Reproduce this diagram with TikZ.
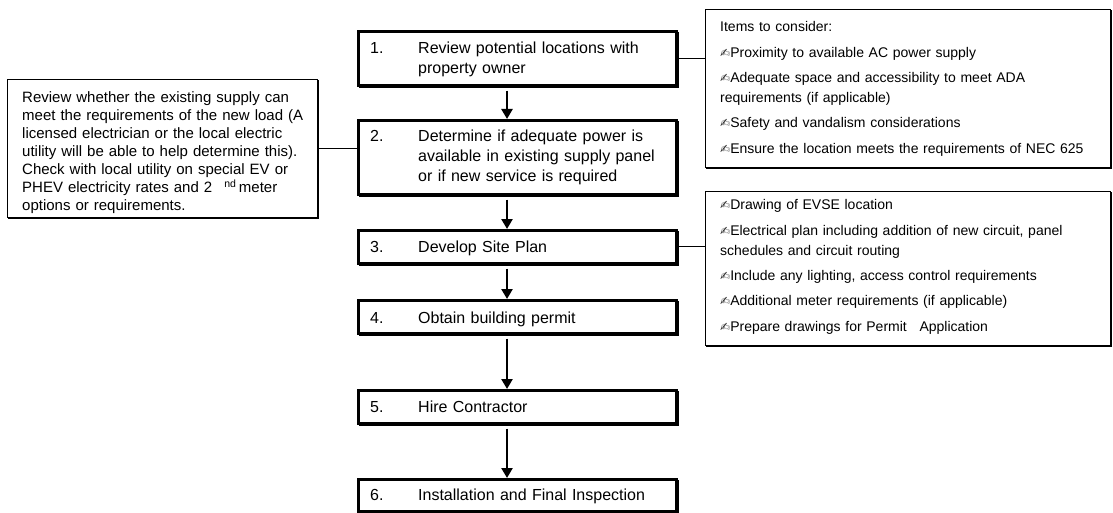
\documentclass[tikz,border=0pt]{standalone}
\usepackage{fontspec}
\setmainfont{Liberation Sans}
\newfontfamily\symfont{DejaVu Sans}
\usetikzlibrary{arrows.meta,calc,shadows}
\newcommand{\pen}{{\symfont\fontsize{12}{12}\selectfont\textcolor{black!80}{✍}}}
\begin{document}
\begin{tikzpicture}[x=1pt,y=-1pt,
  mainbox/.style={draw, line width=2.7pt, fill=white, anchor=north west, inner sep=0pt,
    minimum width=318pt,
    drop shadow={shadow xshift=1.6pt, shadow yshift=-1.6pt, opacity=1, fill=black, draw=black, line width=2.7pt}},
  sidebox/.style={draw, line width=1.1pt, fill=white, anchor=north west, inner sep=0pt,
    drop shadow={shadow xshift=1.3pt, shadow yshift=-1.3pt, opacity=1, fill=black, draw=black, line width=1.1pt}},
  num/.style={anchor=base west, inner sep=0pt, font=\fontsize{16}{20}\selectfont},
  mtext/.style={anchor=base west, inner sep=0pt, align=left, text width=250pt, font=\fontsize{16}{20}\selectfont},
  ltext/.style={anchor=base west, inner sep=0pt, align=left, text width=295pt, font=\fontsize{15}{18}\selectfont},
  rtext/.style={anchor=base west, inner sep=0pt, align=left, text width=385pt, font=\fontsize{14}{19.5}\selectfont},
  arr/.style={line width=2.6pt, -{Triangle[width=11pt,length=10pt]}},
  conn/.style={line width=1.1pt}]
\useasboundingbox (0,0) rectangle (1113,513);
\coordinate (ax) at (507,0);
% main boxes
\node[mainbox, minimum height=54pt] (b1) at (357,30) {};
\node[mainbox, minimum height=74pt] (b2) at (357,119) {};
\node[mainbox, minimum height=33pt] (b3) at (357,229) {};
\node[mainbox, minimum height=33pt] (b4) at (357,299) {};
\node[mainbox, minimum height=33pt] (b5) at (357,389) {};
\node[mainbox, minimum height=32pt] (b6) at (357,478) {};
% main texts
\node[num] (n1) at (370,54) {1.};
\node[mtext] (t1) at (418,54) {Review potential locations with\\property owner};
\node[num] (n2) at (370,142) {2.};
\node[mtext] (t2) at (418,142) {Determine if adequate power is\\available in existing supply panel\\or if new service is required};
\node[num] (n3) at (370,252) {3.};
\node[mtext] (t3) at (418,252) {Develop Site Plan};
\node[num] (n4) at (370,323) {4.};
\node[mtext] (t4) at (418,323) {Obtain building permit};
\node[num] (n5) at (370,412) {5.};
\node[mtext] (t5) at (418,412) {Hire Contractor};
\node[num] (n6) at (370,500) {6.};
\node[mtext] (t6) at (418,500) {Installation and Final Inspection};
% arrows
\draw[arr] ([yshift=-4pt]b1.south -| ax) -- (b2.north -| ax);
\draw[arr] ([yshift=-4pt]b2.south -| ax) -- (b3.north -| ax);
\draw[arr] ([yshift=-4pt]b3.south -| ax) -- (b4.north -| ax);
\draw[arr] ([yshift=-4pt]b4.south -| ax) -- (b5.north -| ax);
\draw[arr] ([yshift=-4pt]b5.south -| ax) -- (b6.north -| ax);
% side boxes
\node[sidebox, minimum width=310pt, minimum height=138pt] (lb) at (7,79) {};
\node[sidebox, minimum width=405pt, minimum height=158pt] (rb1) at (705,9) {};
\node[sidebox, minimum width=405pt, minimum height=154pt] (rb2) at (705,191) {};
% connectors
\draw[conn] (lb.east) -- (lb.east -| b2.west);
\draw[conn] (b1.east) -- (b1.east -| rb1.west);
\draw[conn] (b3.east) -- (b3.east -| rb2.west);
% side texts
\node[ltext] (lt) at (22,103) {Review whether the existing supply can\\
meet the requirements of the new load (A\\
licensed electrician or the local electric\\
utility will be able to help determine this).\\
Check with local utility on special EV or\\
PHEV electricity rates and 2\hspace{12pt}\textsuperscript{nd}\,meter\\
options or requirements.};
\node[rtext] (rt1) at (720,32) {\setlength{\parskip}{6pt}Items to consider:\par
\pen Proximity to available AC power supply\par
\pen Adequate space and accessibility to meet ADA\\requirements (if applicable)\par
\pen Safety and vandalism considerations\par
\pen Ensure the location meets the requirements of NEC 625};
\node[rtext] (rt2) at (720,210) {\setlength{\parskip}{6pt}\pen Drawing of EVSE location\par
\pen Electrical plan including addition of new circuit, panel\\schedules and circuit routing\par
\pen Include any lighting, access control requirements\par
\pen Additional meter requirements (if applicable)\par
\pen Prepare drawings for Permit\hspace{8pt} Application};
\end{tikzpicture}
\end{document}
